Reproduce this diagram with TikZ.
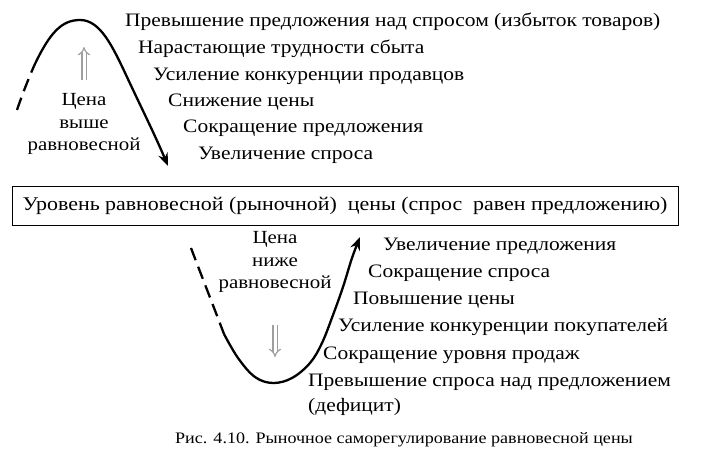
\documentclass[tikz,border=0pt]{standalone}
\usepackage{fontspec}
\setmainfont{Liberation Serif}[FakeStretch=1.13]
\usetikzlibrary{arrows.meta}
\begin{document}
\begin{tikzpicture}[x=1pt,y=-1pt,
  lbl/.style={anchor=west,inner sep=0pt,font=\fontsize{19}{22}\selectfont},
  side/.style={align=center,inner sep=0pt,font=\fontsize{18.5}{22.5}\selectfont},
  curve/.style={line width=2.3pt},
  dashpart/.style={line width=2.3pt,dash pattern=on 13pt off 7pt},
  tip/.style={-{Stealth[length=13pt,width=10pt]}},
  hollow/.style={draw=gray!75,double=white,double distance=3pt,line width=1.2pt,-{Implies[length=6pt]}}]
\useasboundingbox (0,0) rectangle (722,463);
% top list
\node[lbl] (a1) at (125,22) {Превышение предложения над спросом (избыток товаров)};
\node[lbl] (a2) at (138,49) {Нарастающие трудности сбыта};
\node[lbl] (a3) at (153,76) {Усиление конкуренции продавцов};
\node[lbl] (a4) at (168,102) {Снижение цены};
\node[lbl] (a5) at (183,128) {Сокращение предложения};
\node[lbl] (a6) at (198,155) {Увеличение спроса};
% left label
\node[side] (up) at (84,124) {Цена\\выше\\равновесной};
\coordinate (u1) at (84,80);
\coordinate (u2) at (84,47);
\draw[hollow] (u1) -- (u2);
% top curve
\coordinate (t0) at (17,110);
\coordinate (t1) at (34,66);
\coordinate (tp) at (80,20);
\coordinate (tm) at (127,77);
\coordinate (te) at (168,166);
\draw[dashpart] (t0) .. controls (22,95) and (28,80) .. (t1);
\draw[curve,tip] (t1) .. controls (50,32) and (62,20) .. (tp) .. controls (100,20) and (112,45) .. (tm) .. controls (140,105) and (155,135) .. (te);
% box
\node[draw,line width=1pt,minimum width=666pt,minimum height=39pt,inner sep=0pt,font=\fontsize{19.4}{22}\selectfont] (box) at (345,206) {Уровень равновесной (рыночной)\ \ цены (спрос\ \ равен предложению)};
% bottom list
\node[lbl] (b1) at (383,246) {Увеличение предложения};
\node[lbl] (b2) at (368,273) {Сокращение спроса};
\node[lbl] (b3) at (353,300) {Повышение цены};
\node[lbl] (b4) at (338,327) {Усиление конкуренции покупателей};
\node[lbl] (b5) at (323,355) {Сокращение уровня продаж};
\node[lbl] (b6) at (308,382) {Превышение спроса над предложением};
\node[lbl] (b7) at (308,407) {(дефицит)};
% bottom label
\node[side] (down) at (275,262) {Цена\\ниже\\равновесной};
\coordinate (d1) at (275,325);
\coordinate (d2) at (275,357);
\draw[hollow] (d1) -- (d2);
% bottom curve
\coordinate (s0) at (191,248);
\coordinate (s1) at (224,334);
\draw[dashpart] (s0) .. controls (202,277) and (213,305) .. (s1);
\draw[curve,tip] plot[smooth,tension=0.6] coordinates {(224,334) (238,358) (255,377) (273,383) (292,378) (310,363) (322,343) (333,315) (343,287) (352,258) (360,237)};
% caption
\node[inner sep=0pt,font=\fontsize{16}{19}\selectfont] (cap) at (404,440) {Рис. 4.10. Рыночное саморегулирование равновесной цены};
\end{tikzpicture}
\end{document}
